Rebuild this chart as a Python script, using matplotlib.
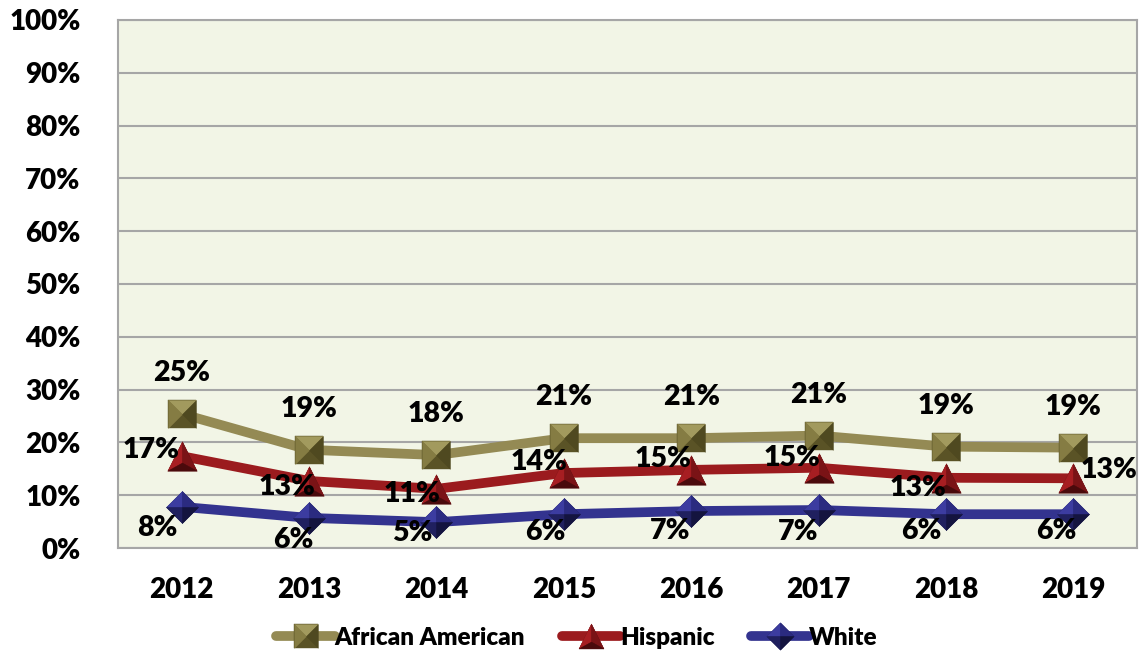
import matplotlib
matplotlib.use("Agg")
import matplotlib.pyplot as plt
from matplotlib.path import Path
from matplotlib.lines import Line2D
from matplotlib.legend_handler import HandlerTuple

years = ["2012", "2013", "2014", "2015", "2016", "2017", "2018", "2019"]
african_american = [25.4, 18.6, 17.6, 20.8, 20.8, 21.3, 19.2, 19.0]
hispanic = [17.4, 12.7, 11.2, 14.2, 14.8, 15.2, 13.3, 13.2]
white = [7.8, 5.7, 4.9, 6.4, 7.0, 7.2, 6.4, 6.4]
yticks = [0, 10, 20, 30, 40, 50, 60, 70, 80, 90, 100]

FONT = "Lato"
W = "heavy"
plt.rcParams["font.family"] = [FONT, "DejaVu Sans"]
plt.rcParams["font.weight"] = W

fig = plt.figure(figsize=(11.43, 6.51), dpi=100)
ax = fig.add_axes([0.1032, 0.1582, 0.8916, 0.8111])
ax.set_facecolor("#F2F5E6")
x = list(range(len(years)))

def P(v):
    return Path(v + [v[0]], closed=True)

# marker faces (pyramid-like shading)
sq_faces = [
    (P([(-1, -1), (1, -1), (1, 1), (-1, 1)]), "#5A5326"),
    (P([(-1, 1), (1, 1), (0, 0)]), "#A29A5E"),
    (P([(-1, -1), (-1, 1), (0, 0)]), "#857C43"),
    (P([(1, -1), (1, 1), (0, 0)]), "#4F4920"),
]
tri_faces = [
    (P([(-1, -1), (1, -1), (0, 1)]), "#5E0E10"),
    (P([(-1, -1), (0, 1), (0, -0.45)]), "#A71E22"),
    (P([(1, -1), (0, 1), (0, -0.45)]), "#7A1316"),
    (P([(-1, -1), (1, -1), (0, -0.45)]), "#4A0A0C"),
]
dia_faces = [
    (P([(0, 1), (1, 0), (0, -1), (-1, 0)]), "#1A1A55"),
    (P([(0, 1), (-1, 0), (0, 0)]), "#3C3CA0"),
    (P([(0, 1), (1, 0), (0, 0)]), "#2B2B80"),
    (P([(0, -1), (-1, 0), (0, 0)]), "#20205F"),
    (P([(0, -1), (1, 0), (0, 0)]), "#14143F"),
]

series = [
    ("African American", african_american, "#948A54", sq_faces, 20),
    ("Hispanic", hispanic, "#9B1B1E", tri_faces, 21),
    ("White", white, "#33338F", dia_faces, 23),
]

handles = []
for name, vals, col, faces, ms in series:
    ax.plot(x, vals, color=col, lw=7, solid_capstyle="round", zorder=3)
    parts = [Line2D([], [], color=col, lw=7, solid_capstyle="round")]
    for path, fc in faces:
        ax.plot(x, vals, linestyle="none", marker=path, markersize=ms,
                markerfacecolor=fc, markeredgecolor=fc, markeredgewidth=0.3, zorder=4)
        parts.append(Line2D([], [], linestyle="none", marker=path, markersize=ms * 0.85,
                            markerfacecolor=fc, markeredgecolor=fc, markeredgewidth=0.3))
    handles.append(tuple(parts))

# data labels
aa_off = [(0, 41)] * 8
hi_off = [(-31, 6), (-22, -6), (-24, -5), (-25, 11), (-28, 11), (-27, 10), (-28, -10), (36, 8)]
wh_off = [(-24, -21), (-16, -22), (-24, -11), (-19, -18), (-21, -20), (-20, -22), (-25, -17), (-17, -17)]
for vals, offs in [(african_american, aa_off), (hispanic, hi_off), (white, wh_off)]:
    for xi, v, o in zip(x, vals, offs):
        ax.annotate(f"{round(v)}%", (xi, v), xytext=o, textcoords="offset pixels",
                    ha="center", va="center", fontsize=20.5, fontweight=W,
                    color="black", zorder=6)

ax.set_xlim(-0.5, len(years) - 0.5)
ax.set_ylim(0, 100)
ax.set_yticks(yticks)
ax.set_yticklabels([f"{t}%" for t in yticks])
ax.set_xticks(x)
ax.set_xticklabels(years)
ax.tick_params(axis="y", length=0, pad=27, labelsize=20)
ax.tick_params(axis="x", length=0, pad=21, labelsize=20)
for lab in ax.get_xticklabels() + ax.get_yticklabels():
    lab.set_fontweight(W)
ax.grid(axis="y", color="#A6A6A6", lw=1.5, zorder=1)
ax.set_axisbelow(True)
for s in ax.spines.values():
    s.set_color("#A6A6A6")
    s.set_linewidth(1.5)

fig.legend(handles, [s[0] for s in series], handler_map={tuple: HandlerTuple(ndivide=1, pad=0)},
           loc="center", bbox_to_anchor=(0.505, 0.02), ncol=3, frameon=False,
           prop={"family": FONT, "weight": W, "size": 17.5}, handlelength=2.4,
           handletextpad=0.0, columnspacing=1.5)

fig.savefig("out.png", dpi=100)
